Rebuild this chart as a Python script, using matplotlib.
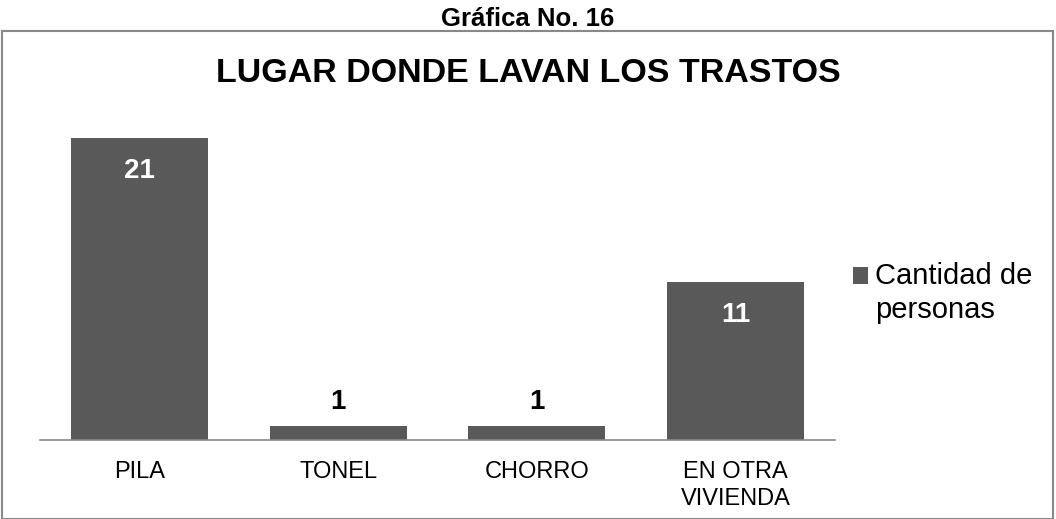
import matplotlib.pyplot as plt
from matplotlib.patches import Rectangle
from matplotlib.legend_handler import HandlerPatch

# Datos de la gráfica
lugares = ["PILA", "TONEL", "CHORRO", "EN OTRA\nVIVIENDA"]
cantidad = [21, 1, 1, 11]
serie = "Cantidad de\npersonas"

plt.rcParams["font.family"] = ["Liberation Sans", "DejaVu Sans"]

W, H = 1056, 519
fig = plt.figure(figsize=(W / 100, H / 100), dpi=100)

# marco del gráfico
fig.patches.append(Rectangle((2 / W, 0), 1051 / W, (H - 31) / H, transform=fig.transFigure,
                             fill=False, edgecolor="#888888", linewidth=1.5))

fig.text(0.5, 1 - 17 / H, "Gráfica No. 16", ha="center", va="center_baseline",
         fontsize=18.5, fontweight="bold")
fig.text(0.5, 1 - 69.5 / H, "LUGAR DONDE LAVAN LOS TRASTOS", ha="center", va="center_baseline",
         fontsize=24.5, fontweight="bold")

# ejes: linea base en y=440 px, 14.38 px por unidad
ax = fig.add_axes([40 / W, (H - 440) / H, 795 / W, 22 * 14.38 / H])
x = range(len(lugares))
bars = ax.bar(x, cantidad, width=0.69, color="#595959")
ax.set_xlim(-0.5, len(lugares) - 0.5)
ax.set_ylim(0, 22)

for b, v in zip(bars, cantidad):
    cx = b.get_x() + b.get_width() / 2
    if v > 5:
        ax.annotate(str(v), (cx, v), xytext=(0, -30), textcoords="offset pixels",
                    ha="center", va="center_baseline", color="white", fontsize=20, fontweight="bold")
    else:
        ax.annotate(str(v), (cx, v), xytext=(0, 27), textcoords="offset pixels",
                    ha="center", va="center_baseline", color="black", fontsize=20, fontweight="bold")

ax.set_xticks(list(x))
ax.set_xticklabels(lugares, fontsize=17, linespacing=1.33, va="top")
ax.tick_params(axis="x", length=0, pad=15)
ax.set_yticks([])
for s in ["top", "right", "left"]:
    ax.spines[s].set_visible(False)
ax.spines["bottom"].set_color("#888888")
ax.spines["bottom"].set_linewidth(1.2)


# cuadro de la leyenda alineado con la primera linea del texto
def cuadro(legend, orig_handle, xdescent, ydescent, width, height, fontsize):
    return Rectangle((-xdescent, -ydescent + 12.6), width, height)


h = bars.patches[0]
leg = fig.legend([h], [serie], loc="upper left", bbox_to_anchor=(853 / W, 1 - 262 / H),
                 frameon=False, fontsize=21, handlelength=0.52, handleheight=0.52,
                 handletextpad=0.25, borderpad=0, borderaxespad=0, labelspacing=0,
                 handler_map={h: HandlerPatch(patch_func=cuadro)})
for t in leg.get_texts():
    t.set_linespacing(1.25)

fig.savefig("out.png", dpi=100)
